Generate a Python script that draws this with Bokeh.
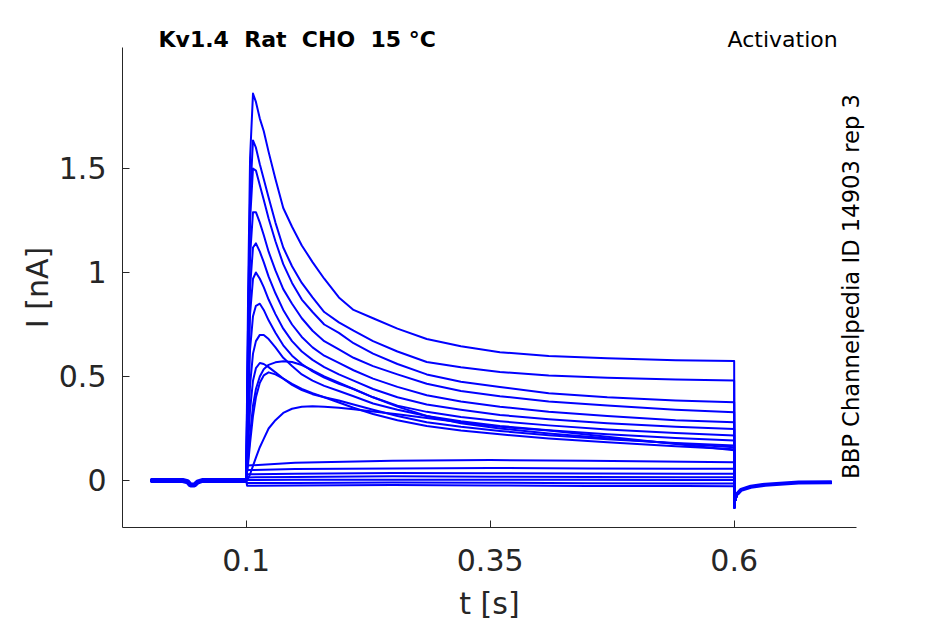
import math
from bokeh.plotting import figure
from bokeh.models import Range1d, FixedTicker, Label
from bokeh.embed import file_html
from bokeh.resources import INLINE

# ---------------- texts / ticks ----------------
title_text = "Kv1.4\u00a0\u00a0Rat\u00a0\u00a0CHO\u00a0\u00a015 °C"
protocol_text = "Activation"
id_text = "BBP Channelpedia ID 14903 rep 3"
x_label = "t [s]"
y_label = "I [nA]"
x_ticks = [0.1, 0.35, 0.6]
x_tick_labels = ["0.1", "0.35", "0.6"]
y_ticks = [0, 0.5, 1, 1.5]
y_tick_labels = ["0", "0.5", "1", "1.5"]

# ---------------- data ----------------
# holding period before the step (shared by all sweeps)
t_base = [0.002, 0.035, 0.040, 0.043, 0.047, 0.050, 0.055, 0.100]
i_base = [0.000, 0.000, -0.006, -0.022, -0.022, -0.008, 0.000, 0.000]

# step period, sweeps with a transient
t_step = [0.100, 0.102, 0.104, 0.107, 0.110, 0.114, 0.118, 0.123, 0.130, 0.138,
          0.147, 0.157, 0.168, 0.180, 0.195, 0.210, 0.230, 0.255, 0.285, 0.320,
          0.360, 0.410, 0.470, 0.540, 0.600]
trace_a = [0, 0.90, 1.55, 1.86, 1.82, 1.74, 1.68, 1.58, 1.45, 1.31, 1.22, 1.13, 1.05,
           0.97, 0.88, 0.82, 0.78, 0.73, 0.68, 0.645, 0.617, 0.598, 0.588, 0.578, 0.574]
trace_b = [0, 0.78, 1.36, 1.635, 1.60, 1.52, 1.45, 1.36, 1.24, 1.12, 1.03, 0.95, 0.88,
           0.81, 0.76, 0.72, 0.67, 0.62, 0.57, 0.545, 0.522, 0.505, 0.494, 0.486, 0.481]
trace_c = [0, 0.70, 1.25, 1.50, 1.49, 1.42, 1.35, 1.26, 1.15, 1.04, 0.95, 0.87, 0.81,
           0.75, 0.71, 0.66, 0.61, 0.56, 0.51, 0.475, 0.45, 0.42, 0.40, 0.385, 0.376]
trace_d = [0, 0.62, 1.08, 1.29, 1.29, 1.24, 1.18, 1.10, 1.01, 0.92, 0.85, 0.78, 0.72,
           0.67, 0.63, 0.59, 0.55, 0.51, 0.465, 0.43, 0.405, 0.38, 0.36, 0.34, 0.328]
trace_e = [0, 0.52, 0.93, 1.12, 1.14, 1.10, 1.05, 0.98, 0.90, 0.82, 0.75, 0.69, 0.64,
           0.60, 0.565, 0.53, 0.49, 0.45, 0.41, 0.38, 0.355, 0.33, 0.31, 0.29, 0.28]
trace_f = [0, 0.44, 0.80, 0.97, 1.00, 0.97, 0.93, 0.87, 0.80, 0.73, 0.67, 0.62, 0.58,
           0.545, 0.51, 0.48, 0.44, 0.40, 0.365, 0.34, 0.315, 0.295, 0.275, 0.258, 0.248]
trace_g = [0, 0.34, 0.63, 0.79, 0.84, 0.85, 0.82, 0.77, 0.71, 0.65, 0.60, 0.56, 0.525,
           0.495, 0.465, 0.44, 0.40, 0.36, 0.33, 0.305, 0.285, 0.265, 0.245, 0.228, 0.216]
trace_h = [0, 0.24, 0.46, 0.61, 0.67, 0.70, 0.70, 0.68, 0.64, 0.59, 0.55, 0.51, 0.48,
           0.455, 0.43, 0.405, 0.37, 0.34, 0.31, 0.285, 0.262, 0.242, 0.222, 0.204, 0.192]
trace_i = [0, 0.17, 0.34, 0.48, 0.54, 0.565, 0.56, 0.545, 0.52, 0.49, 0.46, 0.435, 0.415,
           0.40, 0.385, 0.365, 0.34, 0.31, 0.28, 0.258, 0.238, 0.218, 0.198, 0.18, 0.168]
trace_j = [0, 0.10, 0.22, 0.36, 0.44, 0.50, 0.535, 0.556, 0.568, 0.573, 0.57, 0.555, 0.53,
           0.50, 0.47, 0.44, 0.40, 0.355, 0.31, 0.275, 0.25, 0.226, 0.203, 0.178, 0.16]
trace_k = [0, 0.08, 0.18, 0.31, 0.40, 0.47, 0.505, 0.52, 0.51, 0.49, 0.465, 0.44, 0.42,
           0.40, 0.375, 0.35, 0.32, 0.29, 0.262, 0.24, 0.222, 0.202, 0.184, 0.165, 0.15]
trace_l = [0, 0.01, 0.03, 0.07, 0.11, 0.16, 0.20, 0.25, 0.29, 0.325, 0.345, 0.355, 0.357,
           0.355, 0.35, 0.343, 0.332, 0.318, 0.30, 0.28, 0.258, 0.24, 0.21, 0.175, 0.145]

# step period, sweeps without activation
t_low = [0.100, 0.101, 0.150, 0.250, 0.350, 0.450, 0.550, 0.600]
low_m = [0, 0.072, 0.085, 0.095, 0.098, 0.095, 0.090, 0.088]
low_n = [0, 0.050, 0.055, 0.058, 0.060, 0.058, 0.056, 0.056]
low_o = [0, 0.030, 0.033, 0.036, 0.035, 0.034, 0.033, 0.032]
low_p = [0, 0.015, 0.017, 0.020, 0.018, 0.017, 0.016, 0.016]
low_q = [0, 0.002, 0.003, 0.004, 0.004, 0.003, 0.002, 0.002]
low_r = [0, -0.012, -0.012, -0.010, -0.011, -0.013, -0.014, -0.015]
low_s = [0, -0.025, -0.024, -0.022, -0.024, -0.026, -0.027, -0.028]

# tail after the step (shared)
t_tail = [0.6003, 0.6008, 0.603, 0.607, 0.617, 0.632, 0.666, 0.700]
i_tail = [-0.13, -0.10, -0.065, -0.045, -0.030, -0.020, -0.010, -0.008]

step_traces = [trace_a, trace_b, trace_c, trace_d, trace_e, trace_f,
               trace_g, trace_h, trace_i, trace_j, trace_k, trace_l]
low_traces = [low_m, low_n, low_o, low_p, low_q, low_r, low_s]

# axis extents (data units)
x_axis_lo, x_axis_hi = -0.0267, 0.7253
y_axis_lo, y_axis_hi = -0.226, 2.0817

# ---------------- figure ----------------
BLUE = "#0000FF"
DARK = "#262626"
FONT = "DejaVu Sans"

p = figure(frame_width=940, frame_height=620,
           x_range=Range1d(-0.1517, 0.8114), y_range=Range1d(-0.6731, 2.3077),
           output_backend="svg", toolbar_location=None,
           min_border_left=0, min_border_right=0,
           min_border_top=0, min_border_bottom=0)
p.outline_line_color = None
p.xgrid.visible = False
p.ygrid.visible = False
p.background_fill_color = "white"
p.border_fill_color = "white"

xs, ys = [], []
for tr in step_traces:
    xs.append(t_base + t_step + t_tail)
    ys.append(i_base + tr + i_tail)
for tr in low_traces:
    xs.append(t_base + t_low + t_tail)
    ys.append(i_base + tr + i_tail)

p.multi_line(xs, ys, line_color=BLUE, line_width=2, line_join="round")
# noisy overlapping baseline / tail appear as a thicker band
p.line(t_base, i_base, line_color=BLUE, line_width=5)
p.line(t_tail[2:], i_tail[2:], line_color=BLUE, line_width=4)

for ax in (p.xaxis[0], p.yaxis[0]):
    ax.axis_line_color = DARK
    ax.axis_line_width = 1
    ax.major_tick_line_color = DARK
    ax.major_tick_in = 7
    ax.major_tick_out = 0
    ax.minor_tick_line_color = None
    ax.major_label_text_font = FONT
    ax.major_label_text_font_size = "30px"
    ax.major_label_text_color = DARK

p.xaxis.fixed_location = y_axis_lo
p.yaxis.fixed_location = x_axis_lo
p.xaxis.bounds = (x_axis_lo, x_axis_hi)
p.yaxis.bounds = (y_axis_lo, y_axis_hi)
p.xaxis.ticker = FixedTicker(ticks=x_ticks)
p.xaxis.major_label_overrides = dict(zip(x_ticks, x_tick_labels))
p.yaxis.ticker = FixedTicker(ticks=y_ticks)
p.yaxis.major_label_overrides = dict(zip(y_ticks, y_tick_labels))
p.xaxis.major_label_standoff = 21
p.yaxis.major_label_standoff = 16

# axis titles and annotations
p.add_layout(Label(x=0.3493, y=-0.591, text=x_label, text_font=FONT,
                   text_font_size="30px", text_color=DARK,
                   text_baseline="middle", text_align="center"))
p.add_layout(Label(x=-0.1138, y=0.928, text=y_label, text_font=FONT,
                   text_font_size="30px", text_color=DARK, angle=math.pi / 2,
                   text_baseline="middle", text_align="center"))
p.add_layout(Label(x=0.0102, y=2.120, text=title_text, text_font=FONT,
                   text_font_size="22px", text_font_style="bold",
                   text_color="black", text_baseline="middle", text_align="left"))
p.add_layout(Label(x=0.5932, y=2.120, text=protocol_text, text_font=FONT,
                   text_font_size="22px", text_color="black",
                   text_baseline="middle", text_align="left"))
p.add_layout(Label(x=0.7197, y=0.933, text=id_text, text_font=FONT,
                   text_font_size="22.7px", text_color="black", angle=math.pi / 2,
                   text_baseline="middle", text_align="center"))

open("out.html", "w").write(file_html(p, INLINE))
